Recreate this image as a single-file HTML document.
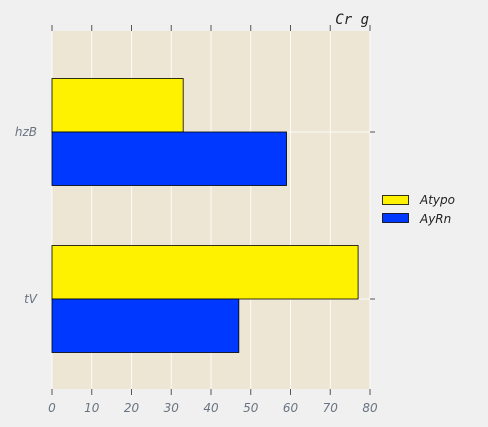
<!DOCTYPE html>
<html><head><meta charset="utf-8"><style>
body{margin:0;background:#f0f0f0;}
svg{display:block;font-family:"DejaVu Sans","Liberation Sans",sans-serif;}
</style></head><body>
<svg id="chart" width="488" height="427" viewBox="0 0 488 427" xmlns="http://www.w3.org/2000/svg">
<rect x="0" y="0" width="488" height="427" fill="#f0f0f0"/>
<rect x="52" y="31" width="318" height="358" fill="#ede6d5"/>
<g id="grid"></g><g id="bars"></g><g id="axes"></g>
<text x="369" y="24" text-anchor="end" font-family="DejaVu Sans Mono, Liberation Mono, monospace" font-style="italic" font-size="14" fill="#222">Cr g</text>
<g>
<rect x="382.5" y="195.5" width="26" height="9" fill="#fff200" stroke="#000" stroke-width="0.8"/>
<text x="420" y="204" font-size="12" font-style="italic" fill="#222">Atypo</text>
<rect x="382.5" y="213.5" width="26" height="9" fill="#0038ff" stroke="#000" stroke-width="0.8"/>
<text x="420" y="223" font-size="12" font-style="italic" fill="#222">AyRn</text>
</g>
</svg>
<script>
const categories = ["hzB", "tV"];
const seriesAtypo = [33, 77];
const seriesAyRn = [59, 47];
const xTicks = [0, 10, 20, 30, 40, 50, 60, 70, 80];
const NS = "http://www.w3.org/2000/svg";
const x0 = 52, x1 = 370, y0 = 31, y1 = 389, xMax = 80;
function xs(v){ return x0 + (x1 - x0) * v / xMax; }
const catCenters = [132, 299];
function yc(i){ return catCenters[i]; }
function mk(tag, attrs, parent){ const e = document.createElementNS(NS, tag); for (const k in attrs) e.setAttribute(k, attrs[k]); document.getElementById(parent).appendChild(e); return e; }
xTicks.forEach(t => {
  const x = xs(t);
  const g = mk("line", {x1:x, x2:x, y1:y0, y2:y1, stroke:"#fff", "stroke-width":0.8}, "grid");
  
  
  const tb = mk("line", {x1:x, x2:x, y1:y1, y2:y1+6, stroke:"#555", "stroke-width":1}, "axes");
  
  
  const tt = mk("line", {x1:x, x2:x, y1:y0-6, y2:y0, stroke:"#555", "stroke-width":1}, "axes");
  
  
  const lb = mk("text", {x:x, y:412, "text-anchor":"middle", "font-size":12, "font-style":"italic", fill:"#6a7480"}, "axes");
  lb.textContent = t;
  
  
});
categories.forEach((c, i) => {
  const y = yc(i);
  const gl = mk("line", {x1:x0, x2:x1, y1:y, y2:y, stroke:"#fff", "stroke-width":0.8}, "grid");
  
  
  const tr = mk("line", {x1:x1, x2:x1+5, y1:y, y2:y, stroke:"#555", "stroke-width":1}, "axes");
  
  
  const lb = mk("text", {x:37, y:y+4, "text-anchor":"end", "font-size":12, "font-style":"italic", fill:"#6a7480"}, "axes");
  lb.textContent = c;
  
  
  const h = 53.5;
  const a = mk("rect", {x:xs(0), y:y-h, width:xs(seriesAtypo[i])-xs(0), height:h, fill:"#fff200", stroke:"#000", "stroke-width":0.8}, "bars");
  
  
  const b = mk("rect", {x:xs(0), y:y, width:xs(seriesAyRn[i])-xs(0), height:h, fill:"#0038ff", stroke:"#000", "stroke-width":0.8}, "bars");
  
  
});
</script>
</body></html>
